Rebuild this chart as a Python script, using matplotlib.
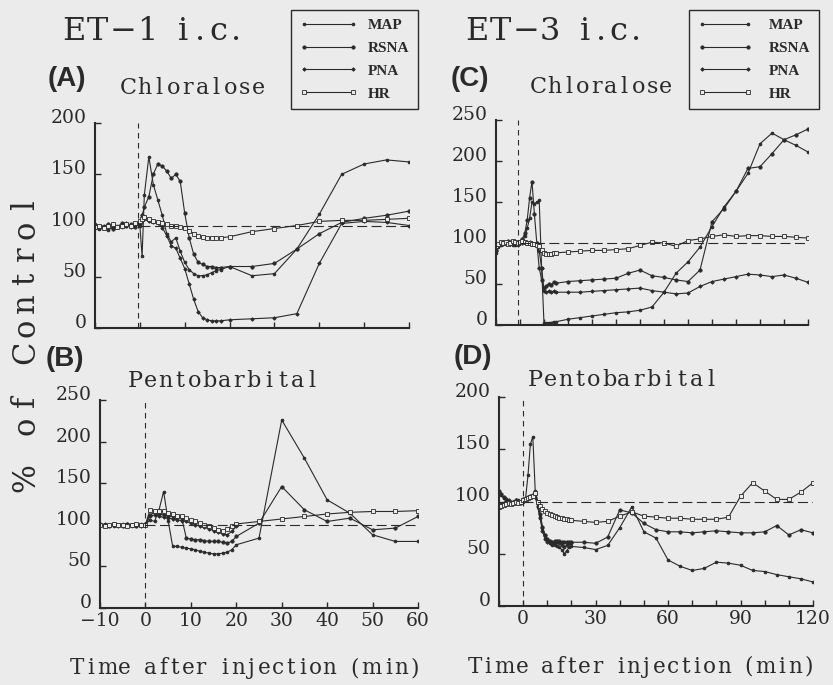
import numpy as np
import matplotlib
matplotlib.use("Agg")
import matplotlib.pyplot as plt
from matplotlib.lines import Line2D

SERIF = "DejaVu Serif"
INK = "#2a2a2a"
PAPER = "#ebebeb"

# ET-1, chloralose (A)
A_T = [-10, -9, -8, -7, -6, -5, -4, -3, -2, -1, 0, 0.5, 1, 2, 3, 4, 5, 6, 7, 8, 9,
       10, 11, 12, 13, 14, 15, 16, 17, 18, 20, 25, 30, 35, 40, 45, 50, 55, 60]
A_MAP = [98, 97, 99, 96, 98, 100, 99, 101, 100, 102, 100, 70, 130, 167, 140, 125, 110, 92, 84, 88,
         75, 64, 57, 53, 51, 51, 52, 54, 56, 57, 60, 51, 53, 77, 111, 150, 160, 164, 162]
A_RSNA = [100, 98, 99, 101, 97, 99, 102, 100, 101, 99, 101, 110, 118, 128, 150, 160, 158, 153, 146, 150,
          143, 112, 88, 72, 64, 62, 60, 60, 59, 59, 60, 60, 63, 77, 92, 103, 107, 110, 114]
A_PNA = [101, 99, 100, 98, 101, 99, 100, 102, 99, 101, 103, 104, 106, 104, 103, 102, 98, 90, 80, 78,
         68, 58, 43, 28, 16, 10, 8, 7, 7, 7, 8, 9, 10, 14, 63, 102, 104, 103, 100]
A_HR = [99, 100, 98, 100, 101, 99, 100, 101, 100, 102, 104, 106, 108, 106, 104, 103, 102, 101, 100, 100,
        99, 98, 95, 92, 90, 89, 88, 88, 88, 88, 89, 94, 97, 100, 104, 105, 105, 106, 107]

# ET-1, pentobarbital (B)
B_T = [-10, -9, -8, -7, -6, -5, -4, -3, -2, -1, 0, 1, 2, 3, 4, 5, 6, 7, 8, 9, 10,
       11, 12, 13, 14, 15, 16, 17, 18, 19, 20, 25, 30, 35, 40, 45, 50, 55, 60]
B_MAP = [100, 99, 100, 99, 100, 101, 100, 99, 100, 101, 100, 106, 104, 118, 140, 105, 74, 74, 73, 72, 71,
         70, 68, 67, 66, 65, 65, 66, 67, 70, 76, 84, 226, 180, 130, 114, 88, 80, 80]
B_RSNA = [101, 100, 99, 101, 100, 99, 101, 100, 99, 100, 101, 112, 115, 113, 112, 111, 110, 109, 108, 84, 83,
          82, 82, 81, 80, 80, 80, 79, 78, 80, 86, 102, 146, 118, 104, 108, 94, 96, 110]
B_PNA = [100, 101, 100, 100, 99, 100, 101, 100, 100, 99, 100, 110, 112, 110, 109, 108, 107, 106, 105, 104, 102,
         100, 99, 97, 95, 93, 91, 89, 88, 92, 98]
B_HR = [100, 99, 100, 101, 100, 100, 99, 100, 101, 100, 100, 118, 117, 116, 116, 114, 113, 111, 110, 108, 106,
        104, 102, 100, 98, 96, 94, 92, 95, 99, 101, 104, 107, 110, 113, 115, 116, 116, 117]

# ET-3, chloralose (C)
C_T = [-10, -9, -8, -7, -6, -5, -4, -3, -2, -1, 0, 1, 2, 3, 4, 5, 6, 7, 8, 9, 10, 11, 12, 13, 14, 15,
       20, 25, 30, 35, 40, 45, 50, 55, 60, 65, 70, 75, 80, 85, 90, 95, 100, 105, 110, 115, 120]
C_MAP = [88, 95, 98, 100, 99, 101, 100, 98, 97, 99, 100, 103, 108, 118, 130, 150, 148, 150, 152, 70, 2,
         2, 3, 3, 4, 4, 7, 9, 11, 13, 15, 16, 18, 22, 40, 63, 77, 95, 120, 144, 163, 185, 221, 234,
         226, 219, 211]
C_RSNA = [92, 96, 99, 101, 100, 102, 101, 100, 99, 100, 101, 105, 112, 128, 155, 175, 135, 100, 70, 55, 45,
          48, 50, 49, 52, 51, 53, 54, 55, 56, 57, 63, 67, 60, 58, 55, 53, 67, 126, 142, 163, 191, 193,
          209, 226, 232, 239]
C_PNA = [90, 97, 100, 99, 101, 100, 99, 101, 100, 98, 100, 100, 101, 100, 101, 100, 99, 97, 90, 70, 42,
         40, 41, 40, 41, 40, 40, 40, 41, 42, 43, 44, 45, 42, 40, 38, 39, 47, 53, 56, 59, 62, 61, 59,
         61, 57, 52]
C_HR = [96, 99, 101, 100, 101, 99, 100, 102, 101, 100, 101, 102, 101, 100, 100, 99, 99, 98, 96, 92, 88,
        87, 87, 87, 88, 88, 89, 90, 91, 91, 92, 93, 97, 101, 100, 96, 103, 105, 108, 110, 108, 109,
        109, 108, 108, 107, 106]

# ET-3, pentobarbital (D)
D_T = [-10, -9, -8, -7, -6, -5, -4, -3, -2, -1, 0, 1, 2, 3, 4, 5, 6, 7, 8, 9, 10, 11, 12, 13, 14, 15,
       16, 17, 18, 19, 20, 25, 30, 35, 40, 45, 50, 55, 60, 65, 70, 75, 80, 85, 90, 95, 100, 105, 110,
       115, 120]
D_MAP = [108, 106, 103, 101, 99, 100, 98, 99, 101, 100, 101, 103, 125, 155, 162, 110, 95, 85, 75, 68, 64,
         60, 58, 58, 57, 56, 54, 50, 53, 56, 57, 56, 54, 58, 75, 95, 71, 65, 44, 38, 34, 36, 42, 41,
         39, 34, 33, 30, 28, 26, 23]
D_RSNA = [110, 107, 104, 102, 100, 99, 100, 101, 99, 100, 102, 102, 104, 105, 106, 108, 100, 88, 76, 68, 64,
          62, 61, 62, 62, 62, 61, 61, 61, 61, 61, 61, 60, 66, 92, 89, 79, 73, 71, 71, 70, 71, 72, 71,
          70, 70, 71, 77, 68, 73, 70]
D_PNA = [97, 98, 99, 100, 101, 99, 100, 101, 100, 99, 100, 101, 103, 104, 106, 104, 96, 84, 72, 64, 61,
         60, 59, 60, 61, 60, 58, 56, 58, 60, 60]
D_HR = [95, 96, 97, 98, 99, 98, 99, 100, 99, 100, 101, 102, 103, 104, 105, 108, 100, 96, 93, 91, 89,
        88, 87, 86, 85, 84, 84, 83, 83, 82, 82, 81, 80, 81, 86, 90, 86, 85, 84, 84, 83, 83, 83, 85,
        105, 118, 110, 102, 102, 109, 118]

NAMES = ["MAP", "RSNA", "PNA", "HR"]
MARKERS = {
    "MAP": dict(marker="o", ms=2.0, mfc=INK),
    "RSNA": dict(marker="o", ms=2.4, mfc=INK),
    "PNA": dict(marker="D", ms=1.8, mfc=INK),
    "HR": dict(marker="s", ms=3.3, mfc=PAPER),
}

W, H = 833, 685
fig = plt.figure(figsize=(W / 100, H / 100), dpi=100, facecolor=PAPER)
renderer = fig.canvas.get_renderer()


def box(x0, y0, x1, y1):
    # pixel box (top-left origin) -> figure fraction rect
    return [x0 / W, 1 - y1 / H, (x1 - x0) / W, (y1 - y0) / H]


def typed(s, size, start, end, base, vertical=False):
    """Typewriter-style text: glyphs on a fixed pitch between start and end (pixels).

    A glyph wider than the pitch gets a wider cell so neighbours never collide.
    Vertical text runs upwards from start (bottom) to end (top).
    """
    arts, widths = [], []
    for ch in s:
        if ch == " ":
            arts.append(None)
            widths.append(0)
            continue
        t = fig.text(0, 0, ch, family=SERIF, fontsize=size, color=INK,
                     ha="center", va="baseline", rotation_mode="anchor")
        arts.append(t)
        widths.append(t.get_window_extent(renderer).width + 1)
    span = abs(end - start)
    lo, hi = 0.0, span
    for _ in range(40):
        p = (lo + hi) / 2
        if sum(max(p, w) for w in widths) > span:
            hi = p
        else:
            lo = p
    pos = 0.0
    for t, w in zip(arts, widths):
        cell = max(lo, w)
        if t is not None:
            c = pos + cell / 2
            if vertical:
                t.set_rotation(90)
                t.set_position((base / W, 1 - (start - c) / H))
            else:
                t.set_position(((start + c) / W, 1 - base / H))
        pos += cell


def label(x, y, s):
    fig.text(x / W, 1 - y / H, s, family="Liberation Sans", weight="bold", fontsize=20,
             color=INK, ha="center", va="center")


def draw_panel(rect, t, curves, xmax, ymax, vline, xlabels):
    ax = fig.add_axes(rect)
    ax.set_facecolor("none")
    for name, y in zip(NAMES, curves):
        ax.plot(t[:len(y)], y, color=INK, lw=0.8, mec=INK, mew=0.6, **MARKERS[name])
    ax.axhline(100, xmin=10 / (xmax + 10), xmax=1, color=INK, lw=0.8, dashes=(9, 4))
    ax.axvline(vline, color=INK, lw=0.8, dashes=(5, 4))
    ax.set_xlim(-10, xmax)
    ax.set_ylim(0, ymax)
    for side in ("top", "right"):
        ax.spines[side].set_visible(False)
    for side in ("left", "bottom"):
        ax.spines[side].set_linewidth(1.5)
        ax.spines[side].set_color(INK)
    ax.tick_params(direction="in", length=4, width=1, color=INK, labelcolor=INK, labelsize=13.5)
    ax.tick_params(axis="y", pad=6)
    ax.tick_params(axis="x", pad=3)
    yt = list(range(0, ymax + 1, 50))
    ax.set_yticks(yt, [str(v) for v in yt], va="baseline", family=SERIF)
    xt = list(range(-10, xmax + 1, 10))
    ax.set_xticks(xt, [xlabels.get(v, "") for v in xt], family=SERIF)
    return ax


no_labels = {}
draw_panel(box(95, 123, 409, 328), A_T, [A_MAP, A_RSNA, A_PNA, A_HR], 60, 200, -0.5, no_labels)
draw_panel(box(100, 400, 418, 608), B_T, [B_MAP, B_RSNA, B_PNA, B_HR], 60, 250, 0,
           {v: str(v).replace("-", "\u2212") for v in range(-10, 61, 10)})
draw_panel(box(496, 120, 808, 325), C_T, [C_MAP, C_RSNA, C_PNA, C_HR], 120, 250, -1, no_labels)
draw_panel(box(499, 397, 813, 606), D_T, [D_MAP, D_RSNA, D_PNA, D_HR], 120, 200, 0,
           {0: "0", 30: "30", 60: "60", 90: "90", 120: "120"})

# headings and labels
typed("ET\u22121 i.c.", 23, 62, 245, 40)
typed("ET\u22123 i.c.", 23, 465, 644, 40)
label(67, 79, "(A)")
label(470, 79, "(C)")
label(65, 359, "(B)")
label(473, 357, "(D)")
typed("Chloralose", 16, 119, 266, 94)
typed("Chloralose", 16, 529, 673, 93)
typed("Pentobarbital", 16, 127, 319, 387)
typed("Pentobarbital", 16, 527, 718, 386)
typed("Time after injection (min)", 15.5, 69, 421, 674)
typed("Time after injection (min)", 15.5, 467, 814, 673)
typed("% of Control", 22, 492, 193, 34, vertical=True)

# legends
handles = [Line2D([], [], color=INK, lw=0.8, mec=INK, mew=0.6, **MARKERS[n]) for n in NAMES]
for x0, hl, tp in ((291, 3.8, 0.7), (689, 3.6, 1.1)):
    leg = fig.legend(handles, NAMES, loc="upper left", bbox_to_anchor=(x0 / W, 1 - 10 / H),
                     bbox_transform=fig.transFigure, borderaxespad=0, numpoints=2,
                     handlelength=hl, handletextpad=tp, labelspacing=0.6, borderpad=0.55,
                     fancybox=False, framealpha=1, facecolor=PAPER, edgecolor=INK,
                     prop=dict(family="Liberation Serif", weight="bold", size=11))
    leg.get_frame().set_linewidth(1.0)
    for txt in leg.get_texts():
        txt.set_color(INK)

fig.savefig("out.png", dpi=100, facecolor=PAPER)
